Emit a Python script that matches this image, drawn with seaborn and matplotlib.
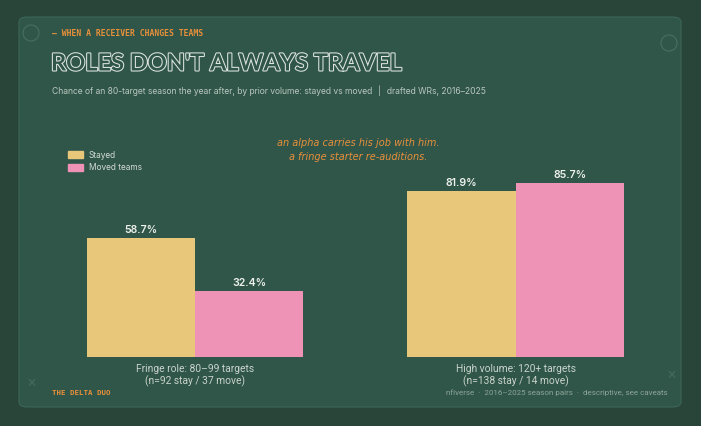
import matplotlib
matplotlib.use("Agg")
import matplotlib.pyplot as plt
import matplotlib.patheffects as pe
from matplotlib.patches import FancyBboxPatch, Ellipse
import pandas as pd
import seaborn as sns

# data
groups = ["Fringe role: 80\u201399 targets\n(n=92 stay / 37 move)",
          "High volume: 120+ targets\n(n=138 stay / 14 move)"]
stayed = [58.7, 81.9]
moved = [32.4, 85.7]
series = ["Stayed", "Moved teams"]

BG = "#294539"
PANEL = "#30564a"
YELLOW = "#e8c77a"
PINK = "#ee93b5"
ORANGE = "#e8903a"
TXT = "#c9d3cc"

df = pd.DataFrame({
    "group": groups * 2,
    "series": [series[0]] * 2 + [series[1]] * 2,
    "value": stayed + moved,
})

sns.set_theme(style="white")
plt.rcParams["font.family"] = ["Inter", "DejaVu Sans"]

fig = plt.figure(figsize=(7.01, 4.26), dpi=100)
fig.patch.set_facecolor(BG)
W, H = 701, 426


def fx(px):
    return px / W


def fy(py):
    return 1 - py / H


# panel
panel = FancyBboxPatch((fx(19), fy(407)), fx(662), (407 - 17) / H,
                       boxstyle="round,pad=0,rounding_size=0.012",
                       transform=fig.transFigure, facecolor=PANEL,
                       edgecolor="#3b6557", linewidth=0.8, zorder=0)
fig.patches.append(panel)

# decorative marks
for cx, cy in [(31, 33), (669, 43)]:
    fig.patches.append(Ellipse((fx(cx), fy(cy)), 16 / W, 16 / H,
                               transform=fig.transFigure, facecolor="none",
                               edgecolor="#46705f", lw=0.8, zorder=1))
for cx, cy in [(32, 382), (671, 374)]:
    fig.text(fx(cx), fy(cy), "\u00d7", color="#416b5b", fontsize=11,
             ha="center", va="center")

ax = fig.add_axes([fx(50), fy(357), fx(610), 203 / H])
ax.set_zorder(3)
ax.set_facecolor("none")
sns.barplot(data=df, x="group", y="value", hue="series", hue_order=series,
            palette=[YELLOW, PINK], width=0.676, ax=ax, saturation=1,
            edgecolor="none", linewidth=0)
ax.set_ylim(0, 100)
ax.set_xlim(-0.452, 1.449)
for s in ax.spines.values():
    s.set_visible(False)
ax.set_yticks([])
ax.set_xlabel("")
ax.set_ylabel("")
ax.tick_params(axis="x", length=0, pad=5, labelsize=7.4, colors=TXT)
for lbl in ax.get_xticklabels():
    lbl.set_family(["Roboto", "DejaVu Sans"])
    lbl.set_linespacing(1.15)

for cont in ax.containers:
    ax.bar_label(cont, labels=[f"{v:.1f}%" for v in cont.datavalues],
                 padding=2, color="#eef1ec", fontsize=7.6, fontweight="semibold")

ax.legend_.remove()
handles = [plt.Rectangle((0, 0), 1, 1, color=c) for c in [YELLOW, PINK]]
fig.legend(handles, series, loc="upper left",
           bbox_to_anchor=(fx(60), fy(143)), frameon=False,
           fontsize=6.0, labelcolor="#d3dbd5", handlelength=1.8,
           handleheight=0.8, labelspacing=0.45, handletextpad=0.75)

# titles
fig.text(fx(52), fy(33), "\u2014 WHEN A RECEIVER CHANGES TEAMS", color=ORANGE,
         fontsize=5.85, fontweight="bold", family="DejaVu Sans Mono",
         va="center", ha="left")
fig.text(fx(51), fy(63), "ROLES DON'T ALWAYS TRAVEL", color=PANEL,
         fontsize=17, fontweight="bold", family="Lato", va="center", ha="left",
         path_effects=[pe.withStroke(linewidth=1.5, foreground="#dfe6e1")])
fig.text(fx(52), fy(91),
         "Chance of an 80-target season the year after, by prior volume: stayed vs moved  \u2502  drafted WRs, 2016\u20132025",
         color="#b9c6bf", fontsize=6.15, va="center", ha="left")

fig.text(fx(358), fy(150), "an alpha carries his job with him.\na fringe starter re-auditions.",
         color=ORANGE, fontsize=7.0, style="italic", family="DejaVu Sans",
         ha="center", va="center", linespacing=1.6)

# footer
fig.text(fx(52), fy(393), "THE DELTA DUO", color=ORANGE, fontsize=5.3,
         fontweight="bold", family="DejaVu Sans Mono", va="center", ha="left")
fig.text(fx(668), fy(393),
         "nflverse  \u00b7  2016\u20132025 season pairs  \u00b7  descriptive, see caveats",
         color="#8ea498", fontsize=5.8, family="Roboto", va="center", ha="right")

fig.savefig("out.png", dpi=100, facecolor=BG)
